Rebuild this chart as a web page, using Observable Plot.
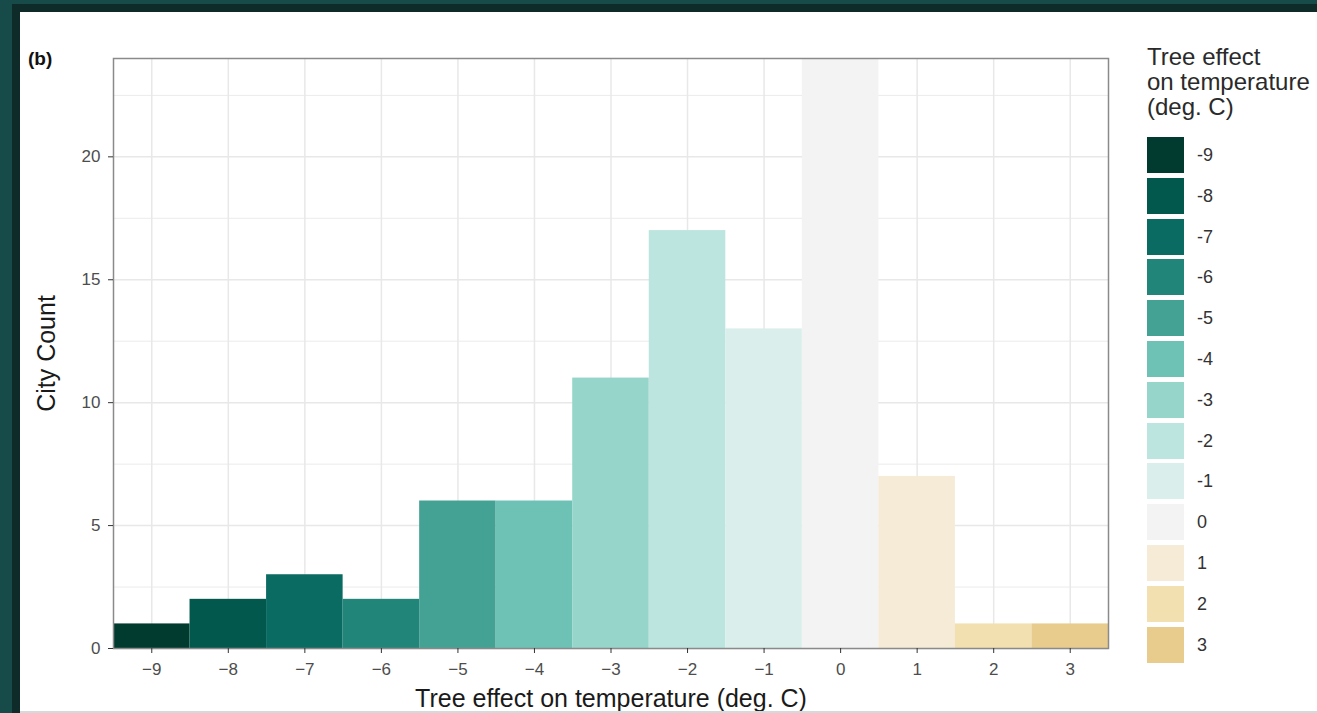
<!DOCTYPE html>
<html>
<head>
<meta charset="utf-8">
<script src="https://cdn.jsdelivr.net/npm/d3@7"></script>
<script src="https://cdn.jsdelivr.net/npm/@observablehq/plot@0.6"></script>
<style>
  html, body { margin: 0; padding: 0; background: #ffffff; }
  #wrap { position: relative; width: 1317px; height: 713px; overflow: hidden; background: #164b49; font-family: "Liberation Sans", Arial, sans-serif; }
  #dark { position: absolute; left: 12px; top: 4px; right: 0; bottom: 0; background: #0f2b29; }
  #panel { position: absolute; left: 20px; top: 12px; right: 0; height: 699px; background: #ffffff; }
  #bottomline { position: absolute; left: 20px; right: 0; top: 711px; height: 2px; background: #d3dada; }
  #chart { position: absolute; left: 20px; top: 12px; }
  #tag { position: absolute; left: 28px; top: 48px; font-weight: bold; font-size: 19px; color: #111; }
  #legend { position: absolute; left: 1147px; top: 44px; color: #2a2a2a; }
  #legend .title { font-size: 24px; line-height: 25px; margin: 0 0 0 0; }
  .sw { position: absolute; width: 37px; height: 36px; }
  .lab { position: absolute; font-size: 18px; color: #333; line-height: 36px; }
</style>
</head>
<body>
<div id="wrap">
  <div id="dark"></div>
  <div id="panel"></div>
  <div id="bottomline"></div>
  <div id="chart"></div>
  <div id="tag">(b)</div>
  <div id="legend"></div>
</div>
<script>
// ---- data ----
const temps = [-9, -8, -7, -6, -5, -4, -3, -2, -1, 0, 1, 2, 3];
const counts = [1, 2, 3, 2, 6, 6, 11, 17, 13, 25, 7, 1, 1]; // 0-bar runs off the top of the panel
const colors = ["#013b2f", "#02584c", "#096b62", "#22857a", "#44a294", "#6ec2b5",
                "#95d5ca", "#bde5e0", "#daeeec", "#f3f3f3", "#f5ebd6", "#f2e0b1", "#e8cc8e"];
const legendLabels = ["-9", "-8", "-7", "-6", "-5", "-4", "-3", "-2", "-1", "0", "1", "2", "3"];
const yTicks = [0, 5, 10, 15, 20];
const yMinor = [2.5, 7.5, 12.5, 17.5, 22.5];
const xTicks = [-9, -8, -7, -6, -5, -4, -3, -2, -1, 0, 1, 2, 3];
const xLabel = "Tree effect on temperature (deg. C)";
const yLabel = "City Count";
const legendTitle = ["Tree effect", "on temperature", "(deg. C)"];

const data = temps.map((t, i) => ({t, n: counts[i]}));

const plot = Plot.plot({
  width: 1110,
  height: 699,
  marginLeft: 93,
  marginRight: 22,
  marginTop: 46,
  marginBottom: 63,
  style: {fontFamily: "Liberation Sans, Arial, sans-serif", fontSize: "17px", background: "transparent"},
  x: {domain: [-9.5, 3.5], label: null},
  y: {domain: [0, 24], label: null},
  color: {type: "ordinal", domain: temps, range: colors},
  marks: [
    Plot.ruleY(yMinor, {stroke: "#ebebeb", strokeWidth: 1}),
    Plot.ruleY(yTicks, {stroke: "#e8e8e8", strokeWidth: 1.5}),
    Plot.ruleX(xTicks, {stroke: "#e8e8e8", strokeWidth: 1.5}),
    Plot.rectY(data, {x1: d => d.t - 0.5, x2: d => d.t + 0.5, y1: 0, y2: "n", fill: "t", clip: true}),
    Plot.frame({stroke: "#8a8a8a", strokeWidth: 1.5}),
    Plot.axisX(xTicks, {tickSize: 5, tickPadding: 9, stroke: "#333", fill: "#4d4d4d", fontSize: 17, label: null}),
    Plot.axisY(yTicks, {tickSize: 5, tickPadding: 8, stroke: "#333", fill: "#4d4d4d", fontSize: 17, label: null}),
    Plot.text([xLabel], {frameAnchor: "bottom", dy: 50, fontSize: 25, fill: "#1a1a1a", lineAnchor: "middle", textAnchor: "middle"}),
    Plot.text([yLabel], {frameAnchor: "left", dx: -66.5, rotate: -90, fontSize: 25, fill: "#1a1a1a", lineAnchor: "middle", textAnchor: "middle"})
  ]
});
document.getElementById("chart").appendChild(plot);

// ---- legend (colors from the plot's own color scale) ----
const colorScale = plot.scale("color");
const leg = document.getElementById("legend");
const title = document.createElement("div");
title.className = "title";
title.innerHTML = legendTitle.join("<br>");
leg.appendChild(title);
temps.forEach((t, i) => {
  const top = 93 + i * 40.8;
  const sw = document.createElement("div");
  sw.className = "sw";
  sw.style.left = "0px";
  sw.style.top = top + "px";
  sw.style.background = colorScale.apply(t);
  leg.appendChild(sw);
  const lab = document.createElement("div");
  lab.className = "lab";
  lab.style.left = "50px";
  lab.style.top = top + "px";
  lab.textContent = legendLabels[i];
  leg.appendChild(lab);
});
</script>
</body>
</html>
